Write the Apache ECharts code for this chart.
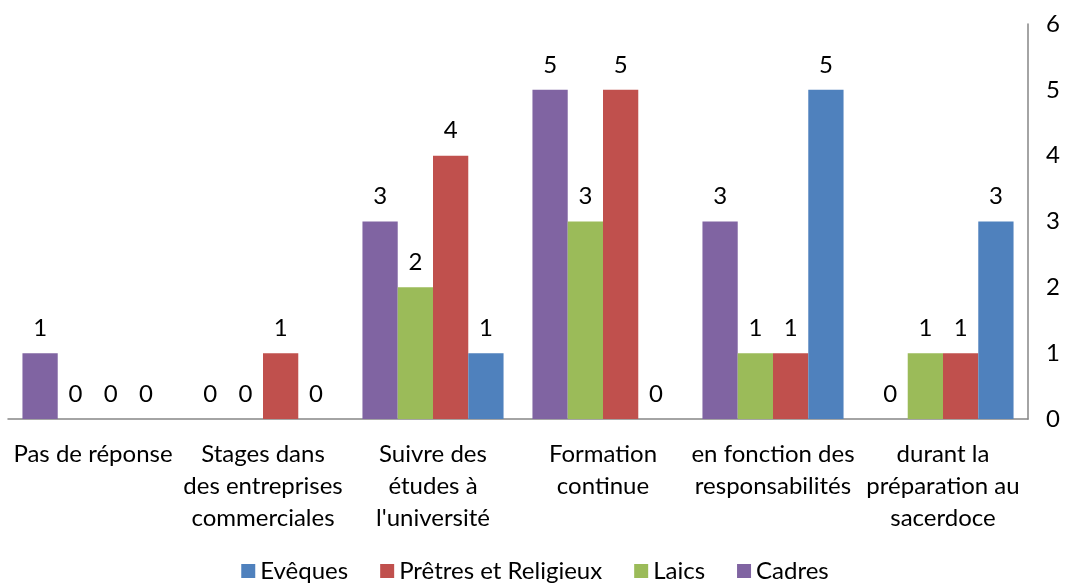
<!DOCTYPE html>
<html>
<head>
<meta charset="utf-8">
<script src="https://cdn.jsdelivr.net/npm/echarts@6/dist/echarts.min.js"></script>
<style>
  html, body { margin: 0; padding: 0; background: #fff; }
  #chart { width: 1070px; height: 588px; }
</style>
</head>
<body>
<div id="chart"></div>
<script>
var categories = ['Pas de réponse', 'Stages dans\ndes entreprises\ncommerciales', 'Suivre des\nétudes à\nl\'université', 'Formation\ncontinue', 'en fonction des\nresponsabilités', 'durant la\npréparation au\nsacerdoce']
var cadres = [1, 0, 3, 5, 3, 0]
var laics = [0, 0, 2, 3, 1, 1]
var pretres = [0, 1, 4, 5, 1, 1]
var eveques = [0, 0, 1, 0, 5, 3]
var yTicks = [0, 1, 2, 3, 4, 5, 6]

var font = 'Lato, "Noto Sans", sans-serif'
var fs = 24
var MyChart = echarts.init(document.getElementById('chart'))

function mkSeries(name, data, color) {
  return {
    name: name,
    type: 'bar',
    data: data,
    barGap: '0%',
    barCategoryGap: '17%',
    itemStyle: { color: color },
    label: { // valeur au-dessus de la barre
      show: true,
      position: 'top',
      distance: 13,
      color: '#000',
      fontSize: fs,
      fontFamily: font
    }
  }
}

var option = {
  animation: false,
  textStyle: { fontFamily: font },
  grid: { left: 8, right: 42, top: 24, bottom: 169, containLabel: false },
  legend: {
    data: ['Evêques', 'Prêtres et Religieux', 'Laics', 'Cadres'],
    bottom: 0,
    left: 'center',
    icon: 'rect',
    itemWidth: 14,
    itemHeight: 14,
    itemGap: 32,
    textStyle: { fontSize: fs, color: '#000', fontFamily: font }
  },
  xAxis: {
    type: 'category',
    data: categories,
    axisLine: { lineStyle: { color: '#868686', width: 1.5 } },
    axisTick: { show: false },
    axisLabel: {
      interval: 0,
      margin: 19,
      fontSize: fs,
      lineHeight: 32,
      color: '#000',
      fontFamily: font
    }
  },
  yAxis: {
    type: 'value',
    position: 'right',
    min: yTicks[0],
    max: yTicks[yTicks.length - 1],
    interval: 1,
    splitLine: { show: false },
    axisLine: { show: true, lineStyle: { color: '#868686', width: 1.5 } },
    axisTick: { show: false },
    axisLabel: { margin: 18, fontSize: fs, color: '#000', fontFamily: font }
  },
  series: [
    mkSeries('Cadres', cadres, '#8064A2'),
    mkSeries('Laics', laics, '#9BBB59'),
    mkSeries('Prêtres et Religieux', pretres, '#C0504D'),
    mkSeries('Evêques', eveques, '#4F81BD')
  ]
}
MyChart.setOption(option)
</script>
</body>
</html>
